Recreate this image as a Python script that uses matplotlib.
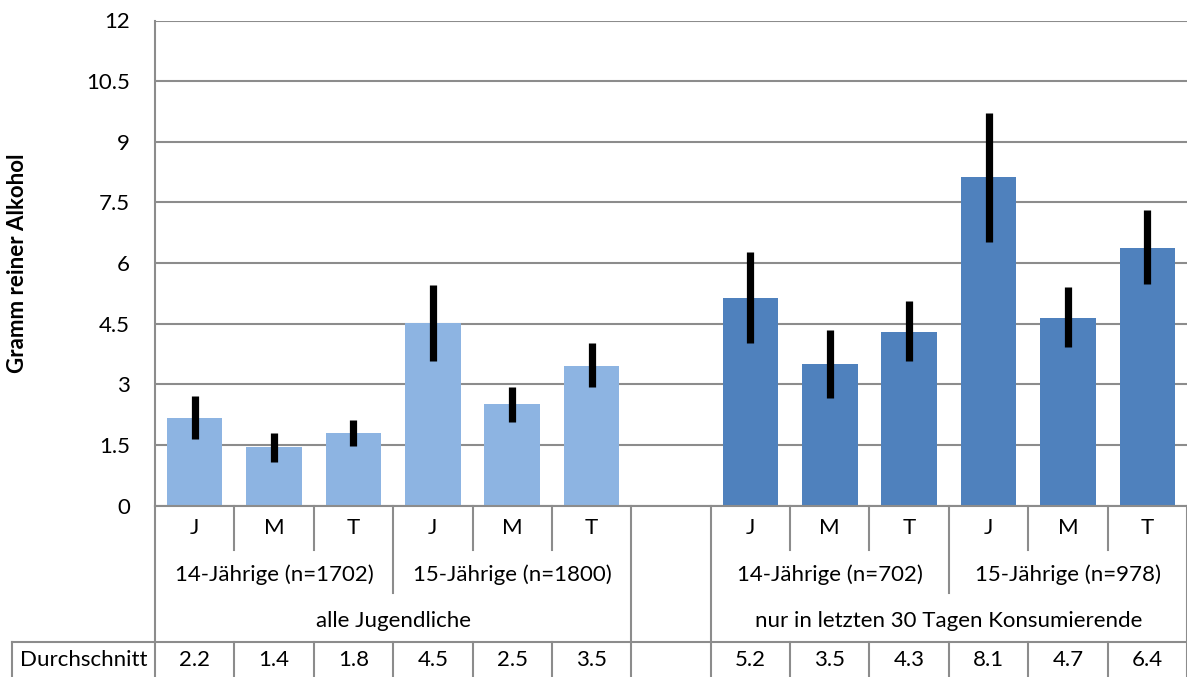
import matplotlib
matplotlib.use("Agg")
import matplotlib.pyplot as plt
import numpy as np

plt.rcParams["font.family"] = ["Lato", "DejaVu Sans"]

# data
groups = ["alle Jugendliche", "nur in letzten 30 Tagen Konsumierende"]
subgroups = [
    ["14-Jährige (n=1702)", "15-Jährige (n=1800)"],
    ["14-Jährige (n=702)", "15-Jährige (n=978)"],
]
types = ["J", "M", "T"]
means = [
    [2.16, 1.44, 1.79, 4.52, 2.52, 3.46],
    [5.14, 3.51, 4.29, 8.13, 4.64, 6.37],
]
err_low = [
    [1.65, 1.07, 1.47, 3.57, 2.06, 2.93],
    [4.02, 2.67, 3.57, 6.51, 3.93, 5.47],
]
err_high = [
    [2.70, 1.79, 2.11, 5.46, 2.93, 4.02],
    [6.28, 4.33, 5.05, 9.72, 5.41, 7.32],
]
table_values = [
    ["2.2", "1.4", "1.8", "4.5", "2.5", "3.5"],
    ["5.2", "3.5", "4.3", "8.1", "4.7", "6.4"],
]
row_label = "Durchschnitt"
ylabel = "Gramm reiner Alkohol"
yticks = [0, 1.5, 3, 4.5, 6, 7.5, 9, 10.5, 12]
colors = ["#8DB4E2", "#4F81BD"]

W, H = 1187, 677
fig = plt.figure(figsize=(W / 100, H / 100), dpi=100)
ax_left, ax_right, ax_top, ax_bot = 155, 1187, 20.5, 505.5
ax = fig.add_axes([ax_left / W, 1 - ax_bot / H, (ax_right - ax_left) / W, (ax_bot - ax_top) / H])

grid_c = "#8C8C8C"
fs = 16
n_slots = 13
ax.set_xlim(-0.5, n_slots - 0.5)
ax.set_ylim(0, 12)
ax.set_yticks(yticks)
ax.set_yticklabels([f"{t:g}" for t in yticks])
ax.tick_params(axis="y", length=0, pad=18, labelsize=fs)
ax.set_xticks([])
ax.yaxis.grid(True, color=grid_c, lw=1.5)
ax.set_axisbelow(True)
for side in ["top", "right"]:
    ax.spines[side].set_visible(False)
for side in ["left", "bottom"]:
    ax.spines[side].set_color(grid_c)
    ax.spines[side].set_linewidth(1.5)

ax.set_ylabel(ylabel, fontsize=fs, fontweight="bold")
ax.yaxis.set_label_coords((28 - ax_left) / (ax_right - ax_left), 0.5)

# slot positions: 6 bars, a gap, 6 bars
starts = [0, 7]
for g in range(len(groups)):
    x = starts[g] + np.arange(len(means[g]))
    m = np.array(means[g])
    lo = m - np.array(err_low[g])
    hi = np.array(err_high[g]) - m
    ax.bar(x, m, width=0.7, color=colors[g], zorder=2)
    ax.errorbar(x, m, yerr=[lo, hi], fmt="none", ecolor="black", elinewidth=5.2, capsize=0, zorder=3)

# table under the axis (pixel rows converted to axes fraction)
trans = ax.get_xaxis_transform()
axh = ax_bot - ax_top


def yf(py):
    return (ax_bot - py) / axh


def vline(x, y0, y1):
    ax.plot([x, x], [yf(y0), yf(y1)], color=grid_c, lw=1.5, transform=trans, clip_on=False)


row1, row2, row3, row4, bottom = 505.5, 550, 600, 641.5, 677
label_x = -0.5 - (ax_left - 12) / ((ax_right - ax_left) / n_slots)

for g in range(len(groups)):
    s = starts[g]
    n = len(means[g])
    vline(s - 0.5, row1, bottom)
    vline(s + n - 0.5, row1, bottom)
    for k in range(1, n):
        if k == 3:
            vline(s + k - 0.5, row1, 593)
        else:
            vline(s + k - 0.5, row1, row2)
        vline(s + k - 0.5, row4, bottom)
    for k in range(n):
        ax.text(s + k, yf((row1 + row2) / 2), types[k % 3], transform=trans,
                ha="center", va="center", fontsize=fs)
        ax.text(s + k, yf((row4 + bottom) / 2 + 1), table_values[g][k], transform=trans,
                ha="center", va="center", fontsize=fs)
    for j, sub in enumerate(subgroups[g]):
        ax.text(s + 3 * j + 1, yf((row2 + row3) / 2), sub, transform=trans,
                ha="center", va="center", fontsize=fs)
    ax.text(s + (n - 1) / 2, yf((row3 + row4) / 2), groups[g], transform=trans,
            ha="center", va="center", fontsize=fs)

ax.plot([label_x, n_slots - 0.5], [yf(row4), yf(row4)], color=grid_c, lw=1.5,
        transform=trans, clip_on=False)
vline(label_x, row4, bottom)
ax.text((label_x - 0.5) / 2, yf((row4 + bottom) / 2 + 1), row_label, transform=trans,
        ha="center", va="center", fontsize=fs)

fig.savefig("out.png", dpi=100)
